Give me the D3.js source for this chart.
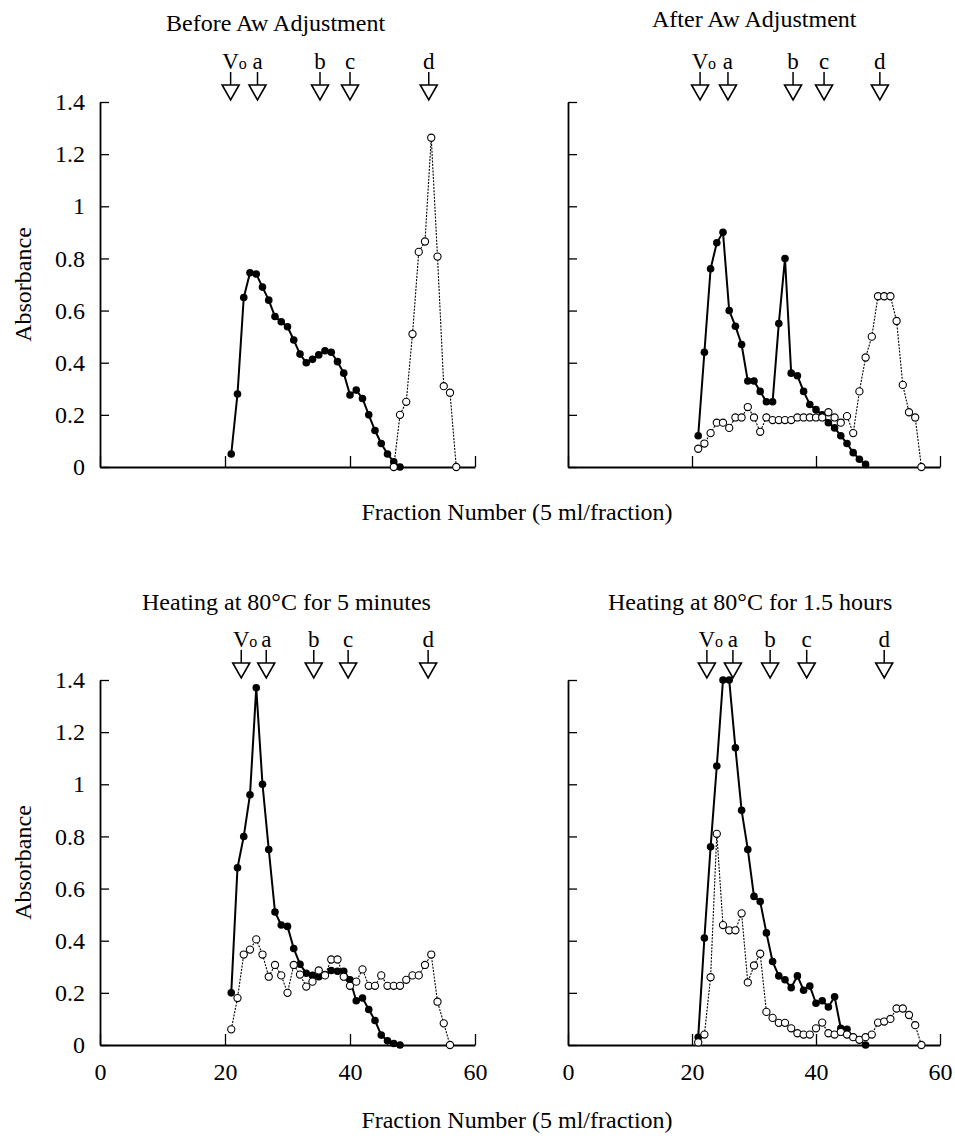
<!DOCTYPE html>
<html>
<head>
<meta charset="utf-8">
<script src="https://cdn.jsdelivr.net/npm/d3@7"></script>
<style>
  body { margin: 0; background: #fff; }
  svg text { font-family: "Liberation Serif", "DejaVu Serif", serif; fill: #000; }
</style>
</head>
<body>
<div id="chart"></div>
<script>
// fraction numbers run 0..60, absorbance 0..1.4
const xTicks = [0, 20, 40, 60];
const yTicks = [0, 0.2, 0.4, 0.6, 0.8, 1, 1.2, 1.4];
const markerLabels = ['V', 'a', 'b', 'c', 'd'];

// Before Aw adjustment
const beforeFilledStart = 21;
const beforeFilled = [0.05, 0.28, 0.65, 0.745, 0.74, 0.69, 0.64, 0.577, 0.557, 0.538,
  0.487, 0.433, 0.40, 0.413, 0.43, 0.446, 0.44, 0.404, 0.36, 0.276,
  0.295, 0.263, 0.20, 0.14, 0.09, 0.05, 0.02, 0.0];
const beforeOpenStart = 47;
const beforeOpen = [0, 0.2, 0.25, 0.51, 0.825, 0.865, 1.263, 0.807, 0.31, 0.285, 0];
const beforeMarkers = [20.9, 25.2, 35.2, 40, 52.6];

// After Aw adjustment
const afterFilledStart = 21;
const afterFilled = [0.12, 0.44, 0.76, 0.86, 0.90, 0.60, 0.54, 0.47, 0.33, 0.33,
  0.29, 0.25, 0.25, 0.55, 0.80, 0.36, 0.35, 0.29, 0.24, 0.22,
  0.20, 0.17, 0.15, 0.12, 0.09, 0.055, 0.03, 0.01];
const afterOpenStart = 21;
const afterOpen = [0.07, 0.09, 0.13, 0.17, 0.17, 0.15, 0.19, 0.19, 0.23, 0.19,
  0.135, 0.19, 0.18, 0.18, 0.18, 0.18, 0.19, 0.19, 0.19, 0.19,
  0.19, 0.21, 0.19, 0.17, 0.195, 0.13, 0.29, 0.42, 0.50, 0.655,
  0.655, 0.655, 0.56, 0.315, 0.21, 0.19, 0];
const afterMarkers = [21.3, 25.8, 36.3, 41.3, 50.3];

// Heating at 80°C for 5 minutes
const heat5FilledStart = 21;
const heat5Filled = [0.20, 0.68, 0.80, 0.96, 1.37, 1.00, 0.75, 0.51, 0.46, 0.455,
  0.37, 0.31, 0.275, 0.267, 0.262, 0.27, 0.286, 0.283, 0.283, 0.25,
  0.17, 0.18, 0.136, 0.094, 0.038, 0.016, 0.006, 0.0];
const heat5OpenStart = 21;
const heat5Open = [0.06, 0.18, 0.347, 0.366, 0.405, 0.347, 0.262, 0.307, 0.267, 0.20,
  0.307, 0.27, 0.224, 0.243, 0.286, 0.267, 0.328, 0.328, 0.262, 0.227,
  0.243, 0.29, 0.227, 0.227, 0.267, 0.227, 0.227, 0.227, 0.25, 0.267,
  0.267, 0.307, 0.347, 0.166, 0.083, 0];
const heat5Markers = [22.6, 26.6, 34.2, 39.7, 52.5];

// Heating at 80°C for 1.5 hours
const heat15FilledStart = 21;
const heat15Filled = [0.03, 0.41, 0.76, 1.07, 1.40, 1.40, 1.14, 0.90, 0.75, 0.57,
  0.55, 0.43, 0.32, 0.265, 0.25, 0.22, 0.265, 0.21, 0.226, 0.16,
  0.17, 0.146, 0.185, 0.064, 0.06, 0.03, 0.02, 0.0];
const heat15OpenStart = 21;
const heat15Open = [0.01, 0.04, 0.26, 0.81, 0.46, 0.44, 0.44, 0.505, 0.24, 0.305,
  0.35, 0.127, 0.104, 0.085, 0.085, 0.064, 0.045, 0.04, 0.04, 0.064,
  0.086, 0.045, 0.04, 0.05, 0.04, 0.03, 0.02, 0.03, 0.04, 0.086,
  0.09, 0.10, 0.14, 0.14, 0.115, 0.076, 0];
const heat15Markers = [22.4, 26.6, 32.6, 38.5, 51];

const toPoints = (start, vals) => vals.map((v, i) => ({ f: start + i, v: v }));

const panels = [
  { title: 'Before Aw Adjustment', titleX: 166, filled: toPoints(beforeFilledStart, beforeFilled),
    open: toPoints(beforeOpenStart, beforeOpen), markers: beforeMarkers,
    left: 100, top: 102, width: 375, height: 365, yLabels: true, xLabels: false, titleY: 31 },
  { title: 'After Aw Adjustment', titleX: 652, filled: toPoints(afterFilledStart, afterFilled),
    open: toPoints(afterOpenStart, afterOpen), markers: afterMarkers,
    left: 568, top: 102, width: 372, height: 365, yLabels: false, xLabels: false, titleY: 27 },
  { title: 'Heating at 80°C for 5 minutes', titleX: 142, filled: toPoints(heat5FilledStart, heat5Filled),
    open: toPoints(heat5OpenStart, heat5Open), markers: heat5Markers,
    left: 100, top: 680, width: 375, height: 365, yLabels: true, xLabels: true, titleY: 610 },
  { title: 'Heating at 80°C for 1.5 hours', titleX: 608, filled: toPoints(heat15FilledStart, heat15Filled),
    open: toPoints(heat15OpenStart, heat15Open), markers: heat15Markers,
    left: 568, top: 680, width: 372, height: 365, yLabels: false, xLabels: true, titleY: 610 }
];

const svg = d3.select('#chart')
  .append('svg')
  .attr('width', 955)
  .attr('height', 1138);

const yFormat = d => String(+d.toFixed(1));
const fontSize = 24;

panels.forEach(p => {
  let x = d3.scaleLinear().domain([0, 60]).range([p.left, p.left + p.width]);
  let y = d3.scaleLinear().domain([0, 1.4]).range([p.top + p.height, p.top]);

  let g = svg.append('g');

  // axes, ticks point inward
  let yAxis = g.append('g')
    .attr('transform', `translate(${p.left},0)`)
    .call(d3.axisLeft(y).tickValues(yTicks).tickSize(-9).tickSizeOuter(0)
      .tickPadding(15).tickFormat(p.yLabels ? yFormat : ''));

  let xAxis = g.append('g')
    .attr('transform', `translate(0,${p.top + p.height})`)
    .call(d3.axisBottom(x).tickValues(xTicks).tickSize(-11).tickSizeOuter(0)
      .tickPadding(18).tickFormat(p.xLabels ? d3.format('d') : ''));

  [yAxis, xAxis].forEach(a => {
    a.attr('font-family', null).attr('font-size', fontSize);
    a.select('.domain').attr('stroke', '#000').attr('stroke-width', 1.8);
    a.selectAll('.tick line').attr('stroke', '#000').attr('stroke-width', 1.3);
  });

  let line = d3.line().x(d => x(d.f)).y(d => y(d.v));

  // filled series
  g.append('path')
    .datum(p.filled)
    .attr('d', line)
    .attr('fill', 'none')
    .attr('stroke', '#000')
    .attr('stroke-width', 2);

  g.selectAll('.dot-filled')
    .data(p.filled)
    .enter()
    .append('circle')
    .attr('class', 'dot-filled')
    .attr('cx', d => x(d.f))
    .attr('cy', d => y(d.v))
    .attr('r', 3.8)
    .attr('fill', '#000');

  // open series
  g.append('path')
    .datum(p.open)
    .attr('d', line)
    .attr('fill', 'none')
    .attr('stroke', '#000')
    .attr('stroke-width', 1.1)
    .attr('stroke-dasharray', '2,1.3');

  g.selectAll('.dot-open')
    .data(p.open)
    .enter()
    .append('circle')
    .attr('class', 'dot-open')
    .attr('cx', d => x(d.f))
    .attr('cy', d => y(d.v))
    .attr('r', 3.6)
    .attr('fill', '#fff')
    .attr('stroke', '#000')
    .attr('stroke-width', 1.1);

  // title
  g.append('text')
    .attr('x', p.titleX)
    .attr('y', p.titleY)
    .attr('font-size', fontSize)
    .text(p.title);

  // elution markers sit just above the 1.4 level
  let tip = p.top - 2,
    triTop = tip - 15,
    stemTop = triTop - 13,
    labelY = stemTop - 3;

  let mk = g.selectAll('.marker')
    .data(p.markers)
    .enter()
    .append('g')
    .attr('class', 'marker');

  mk.append('line')
    .attr('x1', d => x(d)).attr('x2', d => x(d))
    .attr('y1', stemTop).attr('y2', triTop)
    .attr('stroke', '#000').attr('stroke-width', 1.5);

  mk.append('path')
    .attr('d', d => `M${x(d) - 8.5},${triTop}L${x(d) + 8.5},${triTop}L${x(d)},${tip}Z`)
    .attr('fill', '#fff')
    .attr('stroke', '#000')
    .attr('stroke-width', 1.6);

  mk.append('text')
    .attr('x', d => x(d))
    .attr('y', labelY)
    .attr('text-anchor', 'middle')
    .attr('font-size', 23)
    .text((d, i) => markerLabels[i]);

  // small "o" of Vo
  g.append('text')
    .attr('x', x(p.markers[0]) + 8)
    .attr('y', labelY)
    .attr('font-size', 16)
    .text('o');

  if (p.yLabels) {
    g.append('text')
      .attr('transform', `translate(31,${p.top + p.height / 2}) rotate(-90)`)
      .attr('text-anchor', 'middle')
      .attr('font-size', fontSize)
      .text('Absorbance');
  }
});

// shared x labels under each row
[520, 1128].forEach(yy => {
  svg.append('text')
    .attr('x', 517)
    .attr('y', yy)
    .attr('text-anchor', 'middle')
    .attr('font-size', fontSize)
    .text('Fraction Number (5 ml/fraction)');
});
</script>
</body>
</html>
